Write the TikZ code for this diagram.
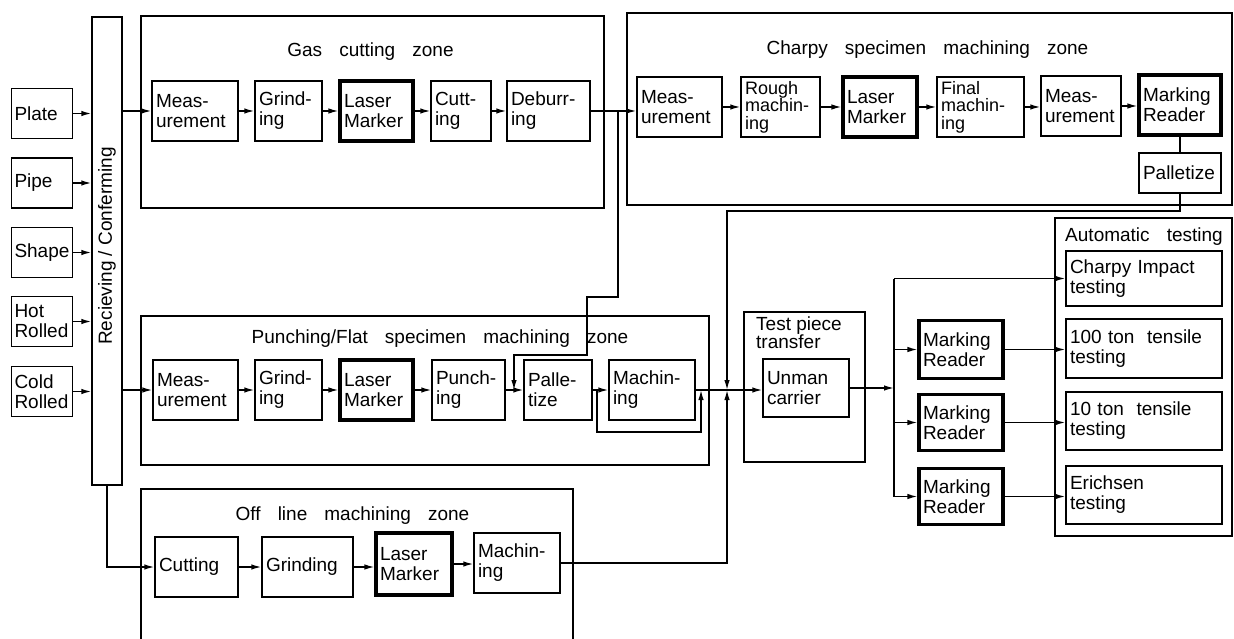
\documentclass[tikz,border=0pt]{standalone}
\usepackage{fontspec}
\setmainfont{Liberation Sans}
\usetikzlibrary{arrows.meta}

\newcommand\boxfont{\fontsize{19}{20}\selectfont}
\newcommand\tightfont{\fontsize{18}{17.5}\selectfont}
\newcommand\titlefont{\fontsize{19}{21}\selectfont\spaceskip=0.9em\relax}

\tikzset{
  proc/.style={draw, line width=1.4pt, align=left, inner xsep=4pt, inner ysep=0pt,
    minimum height=60pt, font=\boxfont},
  thickproc/.style={proc, line width=3.2pt},
  srcbox/.style={proc, inner xsep=3pt, text width=55pt, minimum height=50pt},
  zone/.style={line width=1.3pt},
  zonetitle/.style={font=\titlefont, inner sep=0pt},
  link/.style={line width=1.4pt},
  arr/.style={link, -{Latex[length=10pt,width=5.5pt]}},
}

\begin{document}
\begin{tikzpicture}[x=1pt, y=-1pt]
\useasboundingbox (0,0) rectangle (1234,639);

% materials and receiving
\node[srcbox] (plate) at (42,113.5) {Plate};
\node[srcbox] (pipe)  at (42,183)   {Pipe};
\node[srcbox] (shape) at (42,252.5) {Shape};
\node[srcbox] (hot)   at (42,321.5) {Hot\\Rolled};
\node[srcbox] (cold)  at (42,391.5) {Cold\\Rolled};
\node[draw, line width=1.4pt, minimum width=30pt, minimum height=468pt] (bar) at (107,251) {};
\node[rotate=90, font=\boxfont] (bartext) at (107,246) {Recieving / Conferming};
\draw[arr] (plate) -- (plate -| bar.west);
\draw[arr] (pipe)  -- (pipe -| bar.west);
\draw[arr] (shape) -- (shape -| bar.west);
\draw[arr] (hot)   -- (hot -| bar.west);
\draw[arr] (cold)  -- (cold -| bar.west);

% gas cutting zone
\draw[zone] (141,16) rectangle (604,208);
\node[zonetitle] (gastitle) at (370.5,52) {Gas cutting zone};
\node[proc, text width=78pt]      (gmeas)  at (195,111)   {Meas-\\urement};
\node[proc, text width=59pt]      (ggrind) at (288.5,111) {Grind-\\ing};
\node[thickproc, text width=65pt] (glaser) at (376.5,111) {Laser\\Marker};
\node[proc, text width=52pt]      (gcut)   at (461,111)   {Cutt-\\ing};
\node[proc, text width=75pt]      (gdeb)   at (548.5,111) {Deburr-\\ing};
\draw[arr] (bar.east |- gmeas.west) -- (gmeas.west);
\draw[arr] (gmeas) -- (ggrind);
\draw[arr] (ggrind) -- (glaser);
\draw[arr] (glaser) -- (gcut);
\draw[arr] (gcut) -- (gdeb);

% charpy specimen machining zone
\draw[zone] (627,13) rectangle (1232,205);
\node[zonetitle] (chtitle) at (927.5,50) {Charpy specimen machining zone};
\node[proc, text width=77pt]      (cmeas)  at (679.5,107) {Meas-\\urement};
\node[proc, text width=71pt, font=\tightfont] (crough) at (780.5,107) {Rough\\machin-\\ing};
\node[thickproc, text width=66pt] (claser) at (880,107)   {Laser\\Marker};
\node[proc, text width=79pt, font=\tightfont] (cfinal) at (980.5,107) {Final\\machin-\\ing};
\node[proc, text width=72pt]      (cmeas2) at (1081,106)  {Meas-\\urement};
\node[thickproc, text width=74pt] (cread)  at (1180,105)  {Marking\\Reader};
\node[proc, text width=74pt, minimum height=40pt] (cpal) at (1180,173) {Palletize};
\draw[arr] (gdeb.east) -- (gdeb.east -| cmeas.west);
\draw[arr] (cmeas.east) -- (cmeas.east -| crough.west);
\draw[arr] (crough.east) -- (crough.east -| claser.west);
\draw[arr] (claser.east) -- (claser.east -| cfinal.west);
\draw[arr] (cfinal.east) -- (cfinal.east -| cmeas2.west);
\draw[arr] (cmeas2.east) -- (cmeas2.east -| cread.west);
\draw[link] (cread) -- (cpal);

% punching / flat specimen machining zone
\draw[zone] (141,316) rectangle (709,465);
\node[zonetitle] (pntitle) at (440,339) {Punching/Flat specimen machining zone};
\node[proc, text width=77pt]      (pmeas)  at (195.5,390) {Meas-\\urement};
\node[proc, text width=59pt]      (pgrind) at (288.5,390) {Grind-\\ing};
\node[thickproc, text width=65pt] (plaser) at (376.5,390) {Laser\\Marker};
\node[proc, text width=65pt]      (ppunch) at (468.5,390) {Punch-\\ing};
\node[proc, text width=60pt]      (ppal)   at (558,390)   {Palle-\\tize};
\node[proc, text width=78pt]      (pmach)  at (652,390)   {Machin-\\ing};
\draw[arr] (bar.east |- pmeas.west) -- (pmeas.west);
\draw[arr] (pmeas) -- (pgrind);
\draw[arr] (pgrind) -- (plaser);
\draw[arr] (plaser) -- (ppunch);
\draw[arr] (ppunch) -- (ppal);
\draw[arr] (ppal) -- (pmach);
\coordinate (jg) at (618,111);
\coordinate (pin) at (514,390);
\draw[arr] (jg) -- (618,297) -- (587,297) -- (587,355) -- (514,355) -- (pin);
\coordinate (pby) at (597,390);
\coordinate (pbx) at (701,390);
\draw[arr] (pby) -- (597,432) -- (701,432) -- (pbx);

% test piece transfer
\draw[zone] (744,312) rectangle (865,462);
\node[zonetitle, align=left, anchor=north west, font=\fontsize{19}{18}\selectfont] (tptitle) at (756,317) {Test piece\\transfer};
\node[proc, text width=78pt, minimum height=58pt] (unman) at (806,388) {Unman\\carrier};
\draw[arr] (pmach.east) -- (pmach.east -| unman.west);
\coordinate (jt) at (727,390);
\draw[arr] (cpal.south) |- (727,211) -- (jt);

% off line machining zone
\draw[zone] (141,639) -- (141,489) -- (573,489) -- (573,639);
\node[zonetitle] (oftitle) at (352.5,516) {Off line machining zone};
\node[proc, text width=75pt]      (ocut)   at (196.5,567) {Cutting};
\node[proc, text width=83pt]      (ogrind) at (307.5,567) {Grinding};
\node[thickproc, text width=68pt, minimum height=62pt] (olaser) at (414,564) {Laser\\Marker};
\node[proc, text width=78pt]      (omach)  at (517,563)   {Machin-\\ing};
\draw[arr] (bar.south) |- (ocut.west);
\draw[arr] (ocut.east) -- (ocut.east -| ogrind.west);
\draw[arr] (ogrind.east) -- (ogrind.east -| olaser.west);
\draw[arr] (olaser.east) -- (olaser.east -| omach.west);
\draw[arr] (omach.east) -| (jt);

% marking readers
\node[thickproc, text width=76pt, minimum height=58pt] (mr1) at (961,349.5) {Marking\\Reader};
\node[thickproc, text width=76pt, minimum height=56pt] (mr2) at (961,422.5) {Marking\\Reader};
\node[thickproc, text width=76pt, minimum height=56pt] (mr3) at (961,496.5) {Marking\\Reader};

% automatic testing
\draw[zone] (1055,218) rectangle (1232,536);
\node[zonetitle] (attitle) at (1144,237) {Automatic testing};
\node[proc, text width=148pt, minimum height=55pt] (tcharpy) at (1144,278.5) {Charpy Impact\\testing};
\node[proc, text width=148pt, minimum height=59pt] (t100)    at (1144,348.5) {100 ton~~tensile\\testing};
\node[proc, text width=148pt, minimum height=58pt] (t10)     at (1144,421)   {10 ton~~tensile\\testing};
\node[proc, text width=148pt, minimum height=58pt] (terich)  at (1144,495)   {Erichsen\\testing};

\coordinate (bustop) at (894,278.5);
\coordinate (busbot) at (894,496.5);
\draw[link] (bustop) -- (busbot);
\draw[arr] (unman.east) -- (unman.east -| bustop);
\draw[arr] (bustop) -- (tcharpy.west);
\draw[arr] (mr1.west -| bustop) -- (mr1.west);
\draw[arr] (mr2.west -| bustop) -- (mr2.west);
\draw[arr] (busbot) -- (mr3.west);
\draw[arr] (mr1.east) -- (mr1.east -| t100.west);
\draw[arr] (mr2.east) -- (mr2.east -| t10.west);
\draw[arr] (mr3.east) -- (mr3.east -| terich.west);
\end{tikzpicture}
\end{document}
